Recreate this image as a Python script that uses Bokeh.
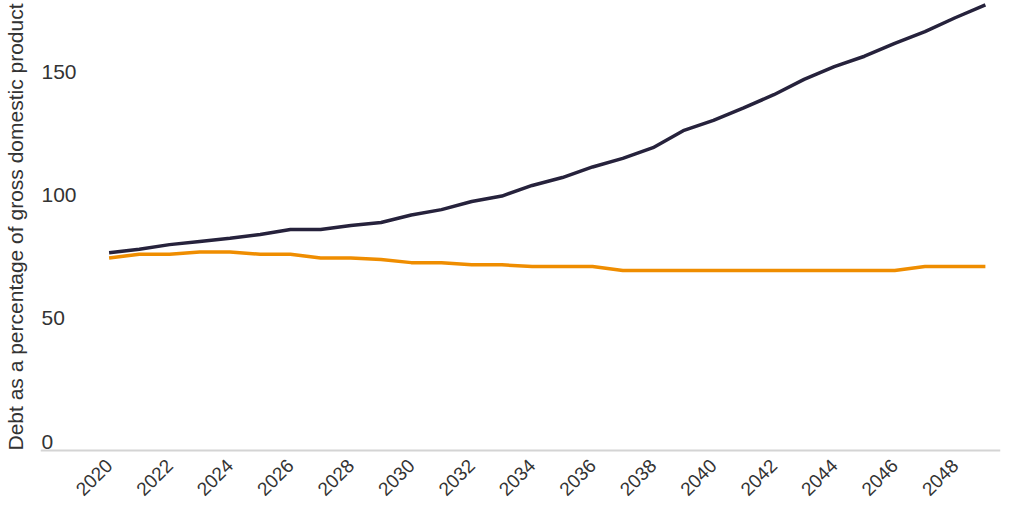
import math
from bokeh.plotting import figure
from bokeh.models import FixedTicker, Range1d, ColumnDataSource
from bokeh.core.properties import value
from bokeh.embed import file_html
from bokeh.resources import INLINE

# ---- data ----
years = list(range(2020, 2050))
debt_navy = [80.2, 81.6, 83.5, 84.8, 86.1, 87.6, 89.6, 89.6, 91.3, 92.5,
             95.5, 97.7, 101.0, 103.2, 107.5, 110.7, 115.0, 118.5, 122.8, 129.7,
             133.9, 139.0, 144.3, 150.5, 155.7, 159.9, 165.1, 169.9, 175.5, 180.7]
debt_orange = [78.1, 79.6, 79.6, 80.5, 80.5, 79.6, 79.6, 78.1, 78.1, 77.5,
               76.2, 76.2, 75.3, 75.3, 74.6, 74.6, 74.6, 73.0, 73.0, 73.0,
               73.0, 73.0, 73.0, 73.0, 73.0, 73.0, 73.0, 74.6, 74.6, 74.6]
x_ticks = list(range(2020, 2049, 2))
y_ticks = [0, 50, 100, 150]
y_tick_labels = ["0", "50", "100", "150"]
y_axis_title = "Debt as a percentage of gross domestic product"

FONT = "Liberation Sans"
TEXT = "#333333"
NAVY = "#26223c"
ORANGE = "#ef8d00"

x_start, x_end = 2017.73, 2049.5
p = figure(width=1008, height=504, output_backend="svg", toolbar_location=None,
           x_range=Range1d(x_start, x_end), y_range=Range1d(-1.2, 182.5),
           min_border_left=0, min_border_top=0, min_border_right=8, min_border_bottom=0)
p.outline_line_color = None
p.background_fill_color = "white"
p.border_fill_color = "white"

# grid: only the zero baseline
p.xgrid.grid_line_color = None
p.ygrid.ticker = FixedTicker(ticks=[0])
p.ygrid.grid_line_color = "#d4d4d4"
p.ygrid.grid_line_width = 2

# left axis: only the title
p.yaxis.ticker = FixedTicker(ticks=[])
p.yaxis.axis_line_color = None
p.yaxis.major_tick_line_color = None
p.yaxis.minor_tick_line_color = None
p.yaxis.axis_label = y_axis_title
p.yaxis.axis_label_text_font = FONT
p.yaxis.axis_label_text_font_size = "21px"
p.yaxis.axis_label_text_font_style = "normal"
p.yaxis.axis_label_text_color = TEXT
p.yaxis.axis_label_standoff = 14

# bottom axis
p.xaxis.ticker = FixedTicker(ticks=x_ticks)
p.xaxis.axis_line_color = None
p.xaxis.major_tick_line_color = None
p.xaxis.minor_tick_line_color = None
p.xaxis.major_label_orientation = math.pi / 4
p.xaxis.major_label_text_font = FONT
p.xaxis.major_label_text_font_size = "19px"
p.xaxis.major_label_text_color = TEXT
p.xaxis.major_label_standoff = 3

# y tick labels drawn inside the plot, above their value
p.text(x=[x_start] * len(y_ticks), y=y_ticks, text=y_tick_labels,
       text_font=value(FONT), text_font_size="21px", text_color=TEXT,
       text_align="left", text_baseline="alphabetic", x_offset=1, y_offset=-9)

src = ColumnDataSource(dict(year=years, navy=debt_navy, orange=debt_orange))
p.line("year", "orange", source=src, line_color=ORANGE, line_width=3.5)
p.line("year", "navy", source=src, line_color=NAVY, line_width=3.5)

open("out.html", "w").write(file_html(p, INLINE))
